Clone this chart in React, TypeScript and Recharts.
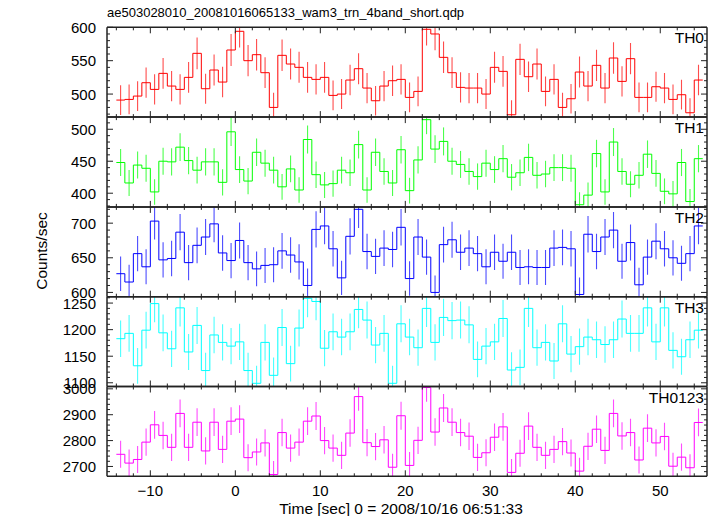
import React from 'react';
import { ComposedChart, Line, Scatter, XAxis, YAxis, ErrorBar } from 'recharts';

const W = 717;
const H = 516;
const PLOT_LEFT = 107;
const PLOT_RIGHT = 707;
const PANEL_TOPS = [27.3, 117.1, 206.9, 296.7, 386.5];
const PANEL_H = 89.8;
const FONT = '"Liberation Sans", Arial, Helvetica, sans-serif';

const BIN_START = -14;
const BIN_WIDTH = 1;

const title = 'ae503028010_20081016065133_wam3_trn_4band_short.qdp';
const xTitle = 'Time [sec] 0 = 2008/10/16 06:51:33';
const yTitle = 'Counts/sec';

const th0 = [
  491, 492, 497, 517, 507, 531, 512, 507, 525, 561,
  508, 536, 518, 566, 594, 550, 559, 532, 480, 558,
  545, 540, 525, 522, 525, 498, 500, 521, 538, 509,
  490, 512, 520, 522, 495, 504, 597, 590, 555, 532,
  510, 509, 509, 500, 540, 534, 469, 552, 526, 545,
  504, 522, 480, 493, 533, 512, 543, 509, 554, 519,
  553, 495, 495, 511, 509, 492, 499, 472, 521,
];
const th0Err = [
  22.2, 22.2, 22.3, 22.7, 22.5, 23.0, 22.6, 22.5, 22.9, 23.7,
  22.5, 23.2, 22.8, 23.8, 24.4, 23.5, 23.6, 23.1, 21.9, 23.6,
  23.3, 23.2, 22.9, 22.8, 22.9, 22.3, 22.4, 22.8, 23.2, 22.6,
  22.1, 22.6, 22.8, 22.8, 22.2, 22.4, 24.4, 24.3, 23.6, 23.1,
  22.6, 22.6, 22.6, 22.4, 23.2, 23.1, 21.7, 23.5, 22.9, 23.3,
  22.4, 22.8, 21.9, 22.2, 23.1, 22.6, 23.3, 22.6, 23.5, 22.8,
  23.5, 22.2, 22.2, 22.6, 22.6, 22.2, 22.3, 21.7, 22.8,
];

const th1 = [
  448, 416, 444, 439, 402, 450, 449, 472, 451, 436,
  449, 449, 417, 496, 437, 419, 464, 447, 436, 410,
  438, 405, 484, 429, 413, 415, 436, 432, 476, 405,
  464, 434, 416, 468, 404, 452, 515, 469, 481, 450,
  445, 434, 426, 447, 437, 454, 425, 432, 456, 428,
  430, 440, 440, 439, 382, 397, 462, 402, 480, 434,
  414, 428, 461, 431, 403, 399, 448, 387, 454,
];
const th1Err = [
  21.2, 20.4, 21.1, 21.0, 20.0, 21.2, 21.2, 21.7, 21.2, 20.9,
  21.2, 21.2, 20.4, 22.3, 20.9, 20.5, 21.5, 21.1, 20.9, 20.2,
  20.9, 20.1, 22.0, 20.7, 20.3, 20.4, 20.9, 20.8, 21.8, 20.1,
  21.5, 20.8, 20.4, 21.6, 20.1, 21.3, 22.7, 21.7, 21.9, 21.2,
  21.1, 20.8, 20.6, 21.1, 20.9, 21.3, 20.6, 20.8, 21.4, 20.7,
  20.7, 21.0, 21.0, 21.0, 19.5, 19.9, 21.5, 20.0, 21.9, 20.8,
  20.3, 20.7, 21.5, 20.8, 20.1, 20.0, 21.2, 19.7, 21.3,
];

const th2 = [
  627, 615, 656, 637, 703, 647, 649, 687, 643, 668,
  680, 699, 657, 646, 675, 643, 634, 639, 640, 660,
  654, 644, 610, 691, 696, 663, 621, 681, 720, 659,
  652, 664, 662, 694, 620, 680, 651, 600, 669, 676,
  658, 664, 656, 637, 658, 645, 658, 636, 637, 636,
  636, 664, 665, 663, 597, 684, 659, 680, 690, 645,
  672, 611, 651, 674, 663, 650, 642, 656, 696,
];
const th2Err = [
  25.0, 24.8, 25.6, 25.2, 26.5, 25.4, 25.5, 26.2, 25.4, 25.8,
  26.1, 26.4, 25.6, 25.4, 26.0, 25.4, 25.2, 25.3, 25.3, 25.7,
  25.6, 25.4, 24.7, 26.3, 26.4, 25.7, 24.9, 26.1, 26.8, 25.7,
  25.5, 25.8, 25.7, 26.3, 24.9, 26.1, 25.5, 24.5, 25.9, 26.0,
  25.7, 25.8, 25.6, 25.2, 25.7, 25.4, 25.7, 25.2, 25.2, 25.2,
  25.2, 25.8, 25.8, 25.7, 24.4, 26.2, 25.7, 26.1, 26.3, 25.4,
  25.9, 24.7, 25.5, 26.0, 25.7, 25.5, 25.3, 25.6, 26.4,
];

const th3 = [
  1183, 1193, 1132, 1199, 1249, 1194, 1164, 1241, 1158, 1208,
  1123, 1190, 1176, 1169, 1177, 1123, 1099, 1176, 1114, 1204,
  1136, 1203, 1259, 1253, 1165, 1196, 1186, 1196, 1238, 1218,
  1171, 1193, 1099, 1211, 1186, 1166, 1240, 1176, 1223, 1217,
  1218, 1209, 1144, 1169, 1177, 1221, 1124, 1129, 1240, 1166,
  1176, 1141, 1211, 1154, 1168, 1186, 1181, 1172, 1181, 1220,
  1193, 1193, 1241, 1177, 1241, 1161, 1149, 1181, 1199,
];
const th3Err = [
  34.4, 34.5, 33.6, 34.6, 35.3, 34.6, 34.1, 35.2, 34.0, 34.8,
  33.5, 34.5, 34.3, 34.2, 34.3, 33.5, 33.2, 34.3, 33.4, 34.7,
  33.7, 34.7, 35.5, 35.4, 34.1, 34.6, 34.4, 34.6, 35.2, 34.9,
  34.2, 34.5, 33.2, 34.8, 34.4, 34.1, 35.2, 34.3, 35.0, 34.9,
  34.9, 34.8, 33.8, 34.2, 34.3, 34.9, 33.5, 33.6, 35.2, 34.1,
  34.3, 33.8, 34.8, 34.0, 34.2, 34.4, 34.4, 34.2, 34.4, 34.9,
  34.5, 34.5, 35.2, 34.3, 35.2, 34.1, 33.9, 34.4, 34.6,
];

const th0123 = [
  2747, 2713, 2727, 2794, 2861, 2820, 2774, 2905, 2774, 2871,
  2760, 2871, 2766, 2875, 2883, 2734, 2756, 2791, 2669, 2831,
  2771, 2794, 2875, 2895, 2800, 2771, 2743, 2829, 2970, 2792,
  2777, 2803, 2697, 2896, 2704, 2801, 3005, 2833, 2926, 2871,
  2831, 2817, 2735, 2753, 2813, 2853, 2677, 2751, 2856, 2774,
  2743, 2766, 2796, 2752, 2682, 2778, 2844, 2762, 2905, 2818,
  2831, 2725, 2848, 2791, 2816, 2701, 2736, 2695, 2870,
];
const th0123Err = [
  52.4, 52.1, 52.2, 52.9, 53.5, 53.1, 52.7, 53.9, 52.7, 53.6,
  52.5, 53.6, 52.6, 53.6, 53.7, 52.3, 52.5, 52.8, 51.7, 53.2,
  52.6, 52.9, 53.6, 53.8, 52.9, 52.6, 52.4, 53.2, 54.5, 52.8,
  52.7, 52.9, 51.9, 53.8, 52.0, 52.9, 54.8, 53.2, 54.1, 53.6,
  53.2, 53.1, 52.3, 52.5, 53.0, 53.4, 51.7, 52.4, 53.4, 52.7,
  52.4, 52.6, 52.9, 52.5, 51.8, 52.7, 53.3, 52.6, 53.9, 53.1,
  53.2, 52.2, 53.4, 52.8, 53.1, 52.0, 52.3, 51.9, 53.6,
];

const X_DOMAIN: [number, number] = [-15.1, 55.5];
const xMajor = [-10, 0, 10, 20, 30, 40, 50];
const xMinorStep = 2;

const panels = [
  { label: 'TH0', values: th0, errors: th0Err, color: '#ff0000', domain: [465.5, 600], major: [500, 550, 600], minorStep: 10 },
  { label: 'TH1', values: th1, errors: th1Err, color: '#00ff00', domain: [378.6, 519], major: [400, 450, 500], minorStep: 10 },
  { label: 'TH2', values: th2, errors: th2Err, color: '#0000ff', domain: [593.8, 723.5], major: [600, 650, 700], minorStep: 10 },
  { label: 'TH3', values: th3, errors: th3Err, color: '#00ffff', domain: [1093, 1262], major: [1100, 1150, 1200, 1250], minorStep: 10 },
  { label: 'TH0123', values: th0123, errors: th0123Err, color: '#ff00ff', domain: [2662, 3009], major: [2700, 2800, 2900, 3000], minorStep: 20 },
];

function rangeTicks(lo: number, hi: number, step: number) {
  const out: number[] = [];
  for (let v = Math.ceil(lo / step) * step; v <= hi + 1e-9; v += step) out.push(Math.round(v * 1000) / 1000);
  return out;
}

const xTicks = rangeTicks(X_DOMAIN[0], X_DOMAIN[1], xMinorStep);

function stepData(values: number[]) {
  const pts = values.map((v, i) => ({ x: BIN_START + i * BIN_WIDTH, y: v }));
  pts.push({ x: BIN_START + values.length * BIN_WIDTH, y: values[values.length - 1] });
  return pts;
}
function centerData(values: number[], errs: number[]) {
  return values.map((v, i) => ({ x: BIN_START + (i + 0.5) * BIN_WIDTH, y: v, err: errs[i] }));
}

const AXIS_COLOR = '#222';
const MAJOR_LEN = 6;
const MINOR_LEN = 3;

const fmt = (v: number) => (v < 0 ? '\u2212' + Math.abs(v) : String(v));

function DataChart({ p, idx }: { p: any; idx: number }) {
  const top = PANEL_TOPS[idx];
  const bottom = H - (top + PANEL_H);
  const step = stepData(p.values);
  const centers = centerData(p.values, p.errors);
  const clip = `inset(${top}px ${W - PLOT_RIGHT}px ${bottom}px ${PLOT_LEFT}px)`;
  return (
    <div style={{ position: 'absolute', left: 0, top: 0, width: W, height: H, clipPath: clip }}>
      <ComposedChart width={W} height={H} margin={{ top, bottom, left: PLOT_LEFT, right: W - PLOT_RIGHT }}>
        <XAxis xAxisId="b" dataKey="x" type="number" domain={X_DOMAIN} allowDataOverflow hide />
        <YAxis yAxisId="l" type="number" domain={p.domain} allowDataOverflow hide />
        <Line
          xAxisId="b"
          yAxisId="l"
          data={step}
          dataKey="y"
          type="stepAfter"
          stroke={p.color}
          strokeWidth={1}
          dot={false}
          activeDot={false}
          isAnimationActive={false}
        />
        <Scatter xAxisId="b" yAxisId="l" data={centers} dataKey="y" shape={() => <g />} isAnimationActive={false}>
          <ErrorBar dataKey="err" direction="y" width={0} stroke={p.color} strokeWidth={1.1} strokeOpacity={0.7} isAnimationActive={false} />
        </Scatter>
      </ComposedChart>
    </div>
  );
}

function AxesChart({ p, idx }: { p: any; idx: number }) {
  const top = PANEL_TOPS[idx];
  const bottom = H - (top + PANEL_H);
  const isLast = idx === panels.length - 1;
  const yTicks = rangeTicks(p.domain[0], p.domain[1], p.minorStep);
  const step = stepData(p.values);

  const leftTick = (props: any) => {
    const { x, y, payload } = props;
    const isMajor = p.major.includes(payload.value);
    return (
      <g>
        <line x1={x} x2={x + (isMajor ? MAJOR_LEN : MINOR_LEN)} y1={y} y2={y} stroke={AXIS_COLOR} strokeWidth={1} />
        {isMajor && (
          <text x={x - 11} y={y} textAnchor="end" dominantBaseline="central" fontSize={15} fontFamily={FONT} fill="#000">
            {payload.value}
          </text>
        )}
      </g>
    );
  };
  const rightTick = (props: any) => {
    const { x, y, payload } = props;
    const isMajor = p.major.includes(payload.value);
    return <line x1={x} x2={x - (isMajor ? MAJOR_LEN : MINOR_LEN)} y1={y} y2={y} stroke={AXIS_COLOR} strokeWidth={1} />;
  };
  const bottomTick = (props: any) => {
    const { x, y, payload } = props;
    const isMajor = xMajor.includes(payload.value);
    return (
      <g>
        <line x1={x} x2={x} y1={y} y2={y - (isMajor ? MAJOR_LEN : MINOR_LEN)} stroke={AXIS_COLOR} strokeWidth={1} />
        {isLast && isMajor && (
          <text x={x} y={y + 14} textAnchor="middle" dominantBaseline="central" fontSize={15} fontFamily={FONT} fill="#000">
            {fmt(payload.value)}
          </text>
        )}
      </g>
    );
  };
  const topTick = (props: any) => {
    const { x, y, payload } = props;
    const isMajor = xMajor.includes(payload.value);
    return <line x1={x} x2={x} y1={y} y2={y + (isMajor ? MAJOR_LEN : MINOR_LEN)} stroke={AXIS_COLOR} strokeWidth={1} />;
  };

  const axisProps = {
    tickSize: 0,
    tickMargin: 0,
    tickLine: false,
    interval: 0 as const,
    allowDataOverflow: true,
    axisLine: { stroke: AXIS_COLOR, strokeWidth: 1.5 },
  };

  return (
    <div style={{ position: 'absolute', left: 0, top: 0, width: W, height: H }}>
      <ComposedChart
        width={W}
        height={H}
        margin={{ top: top - 1, bottom: bottom - 1, left: PLOT_LEFT - 1, right: W - PLOT_RIGHT - 1 }}
      >
        <XAxis xAxisId="b" dataKey="x" type="number" orientation="bottom" domain={X_DOMAIN} ticks={xTicks} height={1} tick={bottomTick} {...axisProps} />
        <XAxis xAxisId="t" dataKey="x" type="number" orientation="top" domain={X_DOMAIN} ticks={xTicks} height={1} tick={topTick} {...axisProps} />
        <YAxis yAxisId="l" type="number" orientation="left" domain={p.domain} ticks={yTicks} width={1} tick={leftTick} {...axisProps} />
        <YAxis yAxisId="r" type="number" orientation="right" domain={p.domain} ticks={yTicks} width={1} tick={rightTick} {...axisProps} />
        <Line xAxisId="b" yAxisId="l" data={step} dataKey="y" stroke="none" dot={false} activeDot={false} isAnimationActive={false} />
        <Line xAxisId="t" yAxisId="r" data={step} dataKey="y" stroke="none" dot={false} activeDot={false} isAnimationActive={false} />
      </ComposedChart>
    </div>
  );
}

export default function App() {
  return (
    <div style={{ position: 'fixed', left: 0, top: 0, width: W, height: H, background: '#fff', overflow: 'hidden' }}>
      {panels.map((p, i) => (
        <DataChart key={'d' + p.label} p={p} idx={i} />
      ))}
      {panels.map((p, i) => (
        <AxesChart key={'a' + p.label} p={p} idx={i} />
      ))}
      <svg width={W} height={H} style={{ position: 'absolute', left: 0, top: 0, pointerEvents: 'none' }}>
        <text x={PLOT_LEFT} y={17} fontSize={13} fontFamily={FONT} fill="#000">{title}</text>
        {panels.map((p, i) => (
          <text key={p.label} x={704} y={PANEL_TOPS[i] + 16} textAnchor="end" fontSize={15.5} fontFamily={FONT} fill="#000">
            {p.label}
          </text>
        ))}
        <text x={401} y={508} textAnchor="middle" dominantBaseline="central" fontSize={15.5} fontFamily={FONT} fill="#000">
          {xTitle}
        </text>
        <text
          x={41}
          y={251}
          textAnchor="middle"
          dominantBaseline="central"
          fontSize={15.5}
          fontFamily={FONT}
          fill="#000"
          transform="rotate(-90 41 251)"
        >
          {yTitle}
        </text>
      </svg>
    </div>
  );
}
